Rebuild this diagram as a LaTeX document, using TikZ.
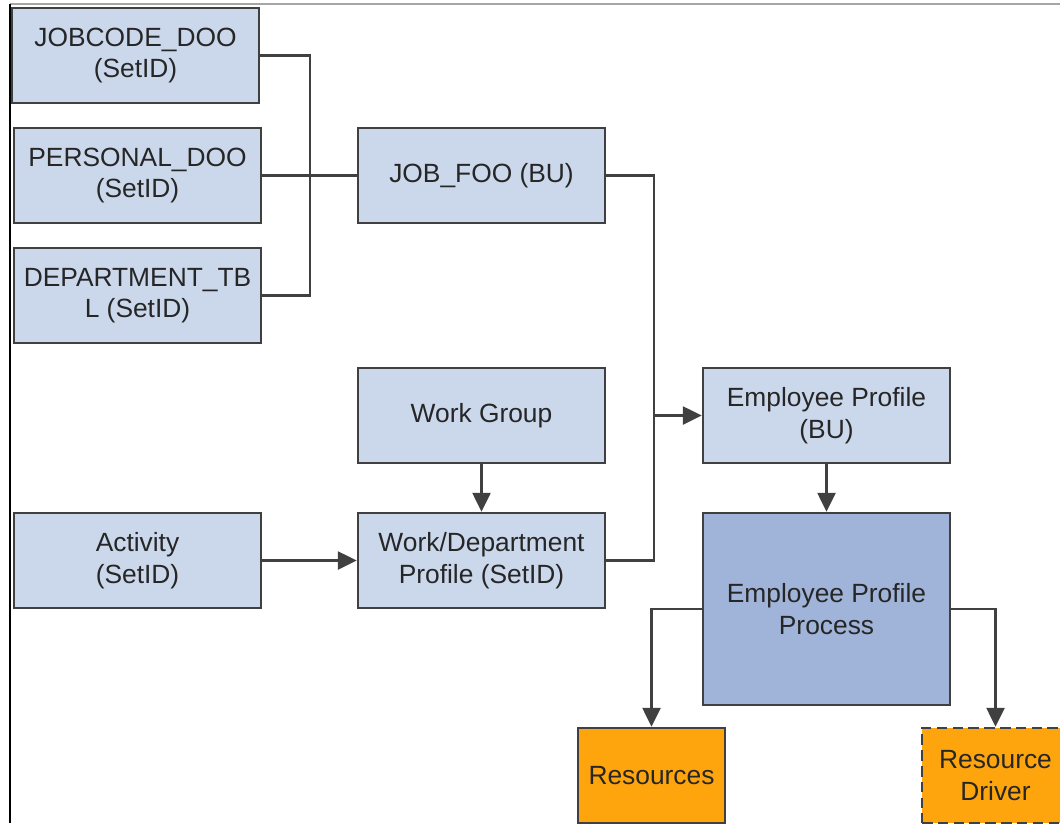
\documentclass[tikz,border=0pt]{standalone}
\usepackage{fontspec}
\setmainfont{Liberation Sans}
\usepackage{xcolor}
\usetikzlibrary{positioning,calc,arrows.meta}
\definecolor{boxblue}{RGB}{203,216,236}
\definecolor{procblue}{RGB}{160,180,218}
\definecolor{resorange}{RGB}{254,165,14}
\definecolor{linegray}{RGB}{64,64,64}
\tikzset{
  tbl/.style={draw=linegray,line width=1.4pt,fill=boxblue,align=center,
    minimum width=4.94cm,minimum height=1.9cm,inner sep=2pt,
    font=\fontsize{15}{18}\selectfont,text=black!85},
  proc/.style={tbl,fill=procblue,minimum height=3.84cm},
  res/.style={tbl,fill=resorange,minimum width=2.94cm},
  link/.style={draw=linegray,line width=1.4pt},
  arr/.style={link,-{Triangle[length=0.38cm,width=0.36cm]}}
}
\begin{document}
\begin{tikzpicture}[x=0.02cm,y=-0.02cm]
\useasboundingbox (0,0) rectangle (1060,823);
% frame
\draw[gray!70,line width=1pt] (10,4) -- (1060,4);
\draw[black,line width=1.2pt] (10,4) -- (10,823);
% tables
\node[tbl] (jobcode) at (135.5,55.5) {JOBCODE\_DOO\\(SetID)};
\node[tbl] (personal) at (137.5,175.5) {PERSONAL\_DOO\\(SetID)};
\node[tbl] (dept) at (137.5,295.5) {DEPARTMENT\_TB\\L (SetID)};
\node[tbl] (jobfoo) at (481.5,175.5) {JOB\_FOO (BU)};
\node[tbl] (workgrp) at (481.5,415.5) {Work Group};
\node[tbl] (activity) at (137.5,560.5) {Activity\\(SetID)};
\node[tbl] (wdprof) at (481.5,560.5) {Work/Department\\Profile (SetID)};
\node[tbl] (empbu) at (826.5,415.5) {Employee Profile\\(BU)};
\node[proc] (empproc) at (826.5,609) {Employee Profile\\Process};
\node[res] (resources) at (651.5,775.5) {Resources};
\node[res,dash pattern=on 6pt off 3pt] (driver) at (995.5,775.5) {Resource\\Driver};
% connectors
\draw[link] (jobcode.east) -- ++(50,0) |- (dept.east);
\draw[link] (personal.east) -- (jobfoo.west);
\coordinate (jn) at ($(jobfoo.east)+(48,0)$);
\draw[link] (jobfoo.east) -- (jn) |- (wdprof.east);
\draw[arr] (jn |- empbu.west) -- (empbu.west);
\draw[arr] (workgrp) -- (wdprof);
\draw[arr] (activity) -- (wdprof);
\draw[arr] (empbu) -- (empproc);
\draw[arr] (empproc.west) -| (resources.north);
\draw[arr] (empproc.east) -| (driver.north);
\end{tikzpicture}
\end{document}
